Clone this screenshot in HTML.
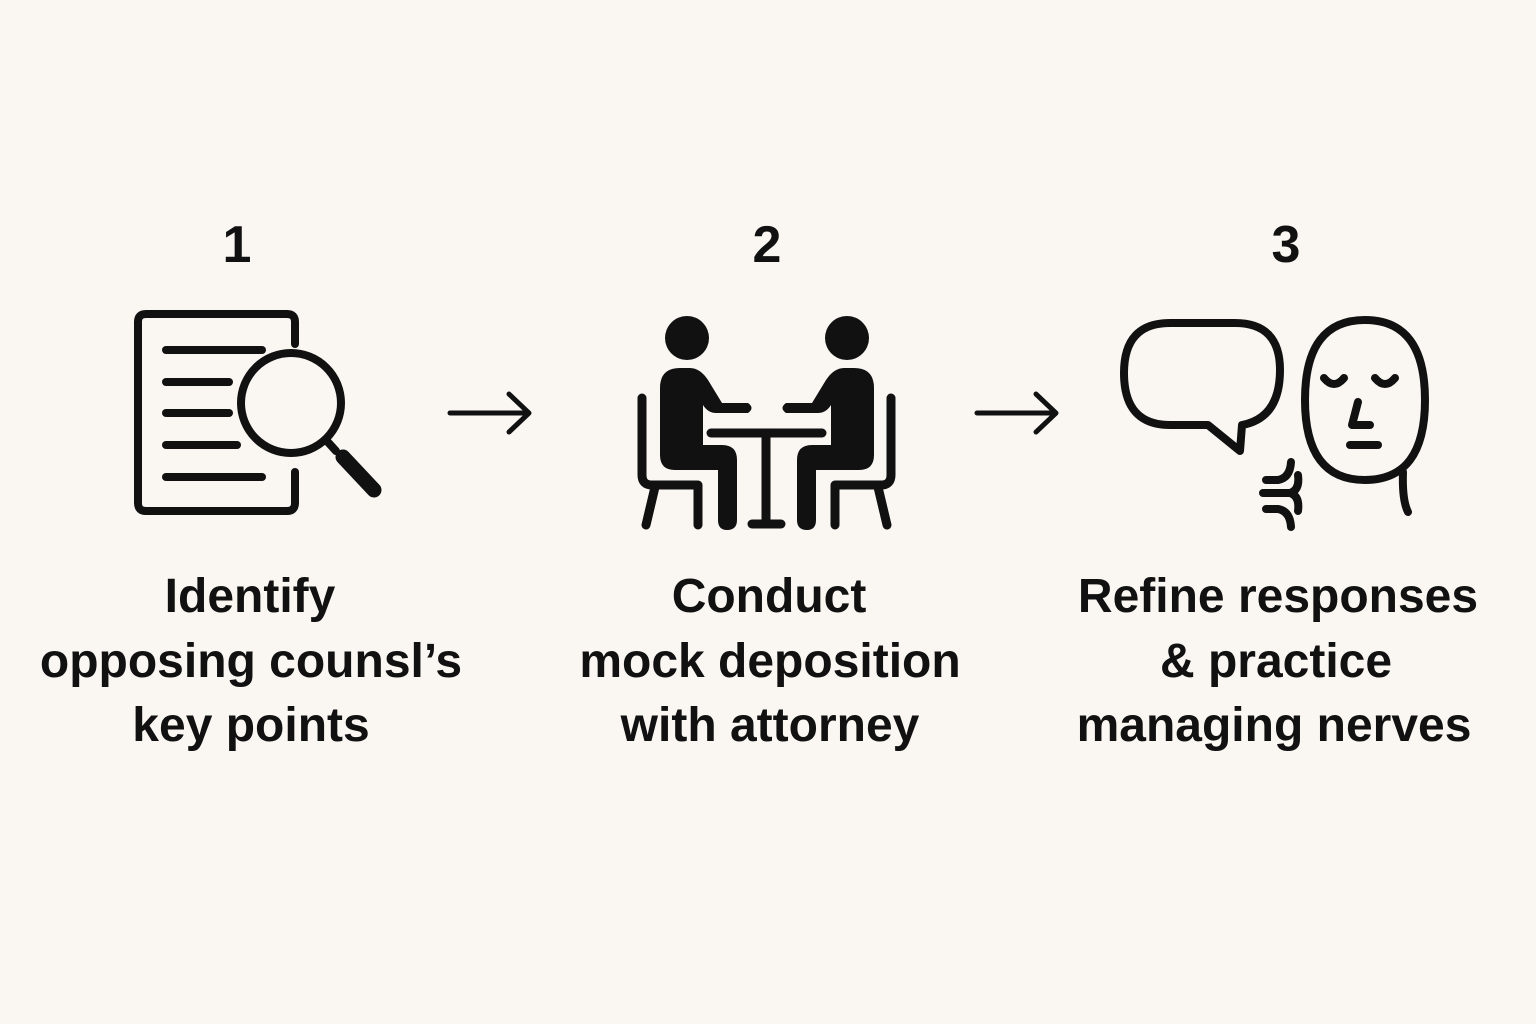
<!DOCTYPE html>
<html><head><meta charset="utf-8"><style>
html,body{margin:0;padding:0;background:#faf7f3;}
svg{display:block}
text{font-family:"Liberation Sans",sans-serif;fill:#111;}
</style></head><body>
<svg width="1536" height="1024" viewBox="0 0 1536 1024" xmlns="http://www.w3.org/2000/svg">
<rect width="1536" height="1024" fill="#faf7f3"/>
<g font-weight="bold" font-size="52" text-anchor="middle">
<text x="237" y="262">1</text>
<text x="767" y="262">2</text>
<text x="1286" y="262">3</text>
</g>
<!-- icon 1 -->
<g fill="none" stroke="#111" stroke-width="8" stroke-linecap="round" stroke-linejoin="round">
<path d="M295 344 V322 Q295 314 287 314 H146 Q138 314 138 322 V503 Q138 511 146 511 H287 Q295 511 295 503 V472"/>
<line x1="166" y1="350" x2="262" y2="350"/>
<line x1="166" y1="382" x2="229" y2="382"/>
<line x1="166" y1="413" x2="229" y2="413"/>
<line x1="166" y1="445" x2="237" y2="445"/>
<line x1="166" y1="477" x2="262" y2="477"/>
<circle cx="291" cy="403" r="50"/>
<line x1="326" y1="440" x2="336" y2="451"/>
<line x1="343" y1="457" x2="374" y2="490" stroke-width="15"/>
</g>
<!-- arrows -->
<g fill="none" stroke="#111" stroke-width="5" stroke-linecap="round" stroke-linejoin="round">
<line x1="450" y1="413" x2="528" y2="413"/><path d="M509 394 L529 413 L509 432"/>
<line x1="977" y1="413" x2="1055" y2="413"/><path d="M1036 394 L1056 413 L1036 432"/>
</g>
<!-- icon 2 -->
<g fill="#111" stroke="#111" stroke-linecap="round" stroke-linejoin="round">
<circle cx="687" cy="338" r="22" stroke="none"/>
<circle cx="847" cy="338" r="22" stroke="none"/>
<g fill="none" stroke-width="9">
<path d="M642 398 V475 Q642 485 652 485 H698 V525"/>
<line x1="655" y1="487" x2="646" y2="525"/>
<path d="M891 398 V475 Q891 485 881 485 H835 V525"/>
<line x1="878" y1="487" x2="887" y2="525"/>
<line x1="711" y1="433" x2="822" y2="433"/>
<line x1="766" y1="433" x2="766" y2="524"/>
<line x1="752" y1="524" x2="781" y2="524"/>
</g>
<path d="M660 388 Q660 368 680 368 H690 Q700 368 708 380 L722 403 H748 Q755 408 748 413 H716 Q708 413 703 405 V445 H722 Q737 445 737 460 V520 Q737 530 727 530 Q718 530 718 520 V470 H675 Q660 470 660 455 Z" stroke="none"/>
<path d="M874 388 Q874 368 854 368 H844 Q834 368 826 380 L812 403 H786 Q779 408 786 413 H818 Q826 413 831 405 V445 H812 Q797 445 797 460 V520 Q797 530 807 530 Q816 530 816 520 V470 H859 Q874 470 874 455 Z" stroke="none"/>
</g>
<!-- icon 3 -->
<g fill="none" stroke="#111" stroke-width="8" stroke-linecap="round" stroke-linejoin="round">
<path d="M1170 323 H1235 Q1280 323 1280 370 Q1280 418 1242 425 L1240 451 L1208 425 H1170 Q1124 425 1124 373 Q1124 323 1170 323 Z"/>
<path d="M1365 320 Q1425 320 1425 400 Q1425 480 1365 480 Q1305 480 1305 400 Q1305 320 1365 320 Z"/>
<path d="M1403 472 Q1402 500 1408 512"/>
<path d="M1324 378 Q1334 390 1344 378"/>
<path d="M1375 378 Q1385 390 1395 378"/>
<path d="M1358 402 L1352 425 H1370"/>
<line x1="1350" y1="445" x2="1378" y2="445"/>
<path d="M1266 480 H1278 Q1290 478 1291 462"/>
<line x1="1263" y1="493" x2="1290" y2="493"/>
<path d="M1266 509 H1278 Q1290 511 1291 527"/>
<path d="M1290 493 Q1300 490 1298 475"/>
<path d="M1290 493 Q1300 496 1298 511"/>
</g>
<!-- labels -->
<g font-weight="bold" font-size="48" text-anchor="middle">
<text x="250" y="612">Identify</text>
<text x="251" y="677">opposing counsl’s</text>
<text x="251" y="741">key points</text>
<text x="769" y="612">Conduct</text>
<text x="770" y="677">mock deposition</text>
<text x="770" y="741">with attorney</text>
<text x="1278" y="612">Refine responses</text>
<text x="1276" y="677">&amp; practice</text>
<text x="1274" y="741">managing nerves</text>
</g>
</svg>
</body></html>
